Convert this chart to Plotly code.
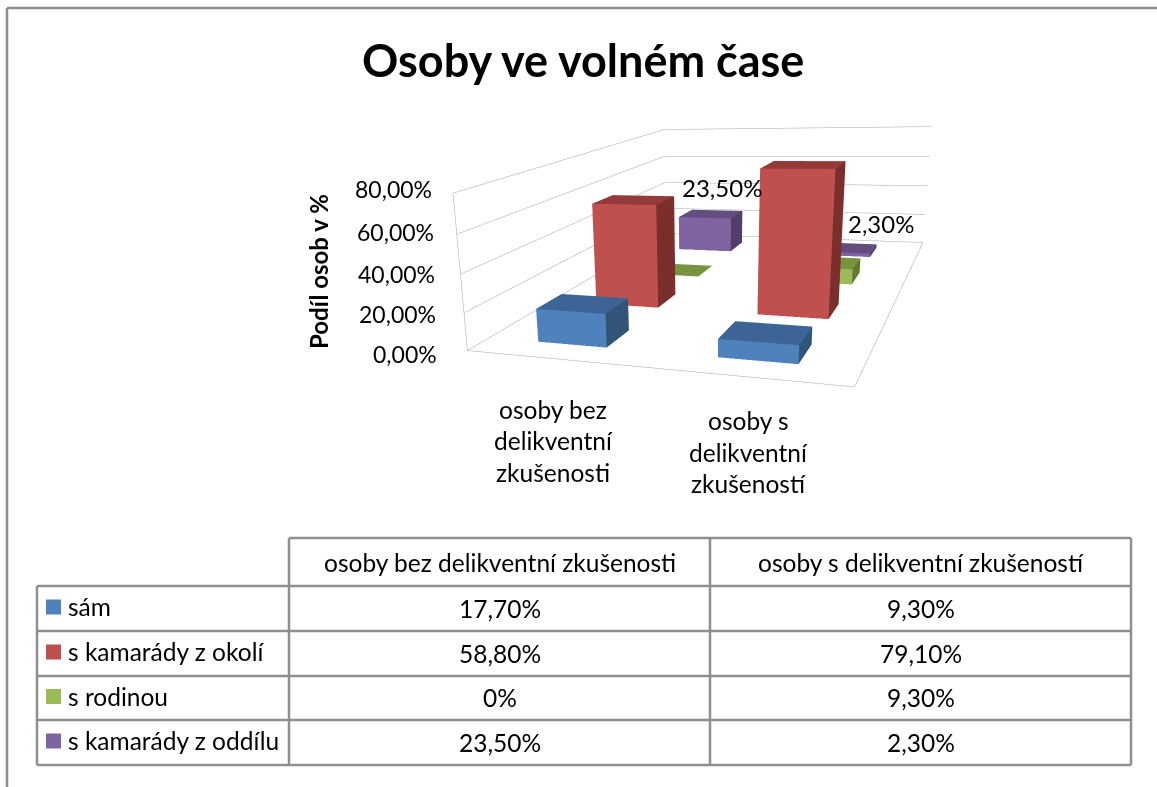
import plotly.graph_objects as go

# ---------- data ----------
categories = ["osoby bez delikventní zkušenosti", "osoby s delikventní zkušeností"]
category_lines = [["osoby bez", "delikventní", "zkušenosti"], ["osoby s", "delikventní", "zkušeností"]]
series = ["sám", "s kamarády z okolí", "s rodinou", "s kamarády z oddílu"]
sam = [0.177, 0.093]
okoli = [0.588, 0.791]
rodina = [0.0, 0.093]
oddil = [0.235, 0.023]
values = [sam, okoli, rodina, oddil]
table_text = [["17,70%", "9,30%"], ["58,80%", "79,10%"], ["0%", "9,30%"], ["23,50%", "2,30%"]]
z_ticks = [0, 0.2, 0.4, 0.6, 0.8]
z_tick_labels = ["0,00%", "20,00%", "40,00%", "60,00%", "80,00%"]
front_colors = ["#4F81BD", "#C0504D", "#9BBB59", "#8064A2"]
top_colors = ["#3C6494", "#953A38", "#77933F", "#634C7E"]
side_colors = ["#325479", "#7B2F2D", "#62792F", "#523E69"]

W, H = 1157, 787
FONT = "Lato"
GRID = "#a6a6a6"
TBL = "#8f8f8f"
px = lambda x: x / W
py = lambda y: 1 - y / H

fig = go.Figure()

# ---------- walls and floor ----------
gx, gy, gz = [], [], []
for t in z_ticks:
    gx += [0, 0, 2, None]
    gy += [0, 4, 4, None]
    gz += [t, t, t, None]
gx += [0, 0, None, 0, 2, 2]
gy += [0, 0, None, 0, 0, 4]
gz += [0, 0.8, None, 0, 0, 0]
fig.add_trace(go.Scatter3d(x=gx, y=gy, z=gz, mode="lines", line=dict(color=GRID, width=1),
                           hoverinfo="skip", showlegend=False))

# ---------- bars ----------
BAR_LO, BAR_HI = 0.3, 0.7
for s, vals in enumerate(values):
    X, Y, Z, I, J, K, FC = [], [], [], [], [], [], []
    for c, v in enumerate(vals):
        x0, x1, y0, y1 = c + BAR_LO, c + BAR_HI, s + BAR_LO, s + BAR_HI
        n = len(X)
        X += [x0, x1, x1, x0, x0, x1, x1, x0]
        Y += [y0, y0, y1, y1, y0, y0, y1, y1]
        Z += [0, 0, 0, 0, v, v, v, v]
        faces = [((0, 1, 5), front_colors[s]), ((0, 5, 4), front_colors[s]),
                 ((1, 2, 6), side_colors[s]), ((1, 6, 5), side_colors[s]),
                 ((4, 5, 6), top_colors[s]), ((4, 6, 7), top_colors[s]),
                 ((0, 3, 7), side_colors[s]), ((0, 7, 4), side_colors[s]),
                 ((3, 2, 6), side_colors[s]), ((3, 6, 7), side_colors[s])]
        for (a, b, d), col in faces:
            I.append(n + a); J.append(n + b); K.append(n + d); FC.append(col)
    fig.add_trace(go.Mesh3d(x=X, y=Y, z=Z, i=I, j=J, k=K, facecolor=FC, flatshading=True,
                            lighting=dict(ambient=1, diffuse=0, specular=0, fresnel=0, roughness=1),
                            hoverinfo="skip", name=series[s], showlegend=False))

# ---------- scene text ----------
scene_ann = []
for t, lab in zip(z_ticks, z_tick_labels):
    scene_ann.append(dict(x=0, y=0, z=t, text=lab, showarrow=False, xanchor="right",
                          xshift=-28 + 11.25 * t, yshift=-3 + 8.75 * t,
                          font=dict(family=FONT, size=23, color="black")))
scene_ann.append(dict(x=0.5, y=3.5, z=oddil[0], text=table_text[3][0], showarrow=False, xshift=11, yshift=26,
                      font=dict(family=FONT, size=24, color="black")))
scene_ann.append(dict(x=1.5, y=3.5, z=oddil[1], text=table_text[3][1], showarrow=False, xshift=36, yshift=24,
                      font=dict(family=FONT, size=24, color="black")))

fig.update_layout(scene=dict(
    domain=dict(x=[0, 1], y=[0, 1]),
    bgcolor="rgba(0,0,0,0)",
    dragmode="orbit",
    xaxis=dict(visible=False, range=[0, 2]),
    yaxis=dict(visible=False, range=[0, 4]),
    zaxis=dict(visible=False, range=[0, 0.8]),
    aspectmode="manual", aspectratio=dict(x=1, y=1.6227, z=0.414),
    camera=dict(eye=dict(x=0.7747, y=-2.8796, z=0.5455),
                center=dict(x=-0.4192, y=-0.2982, z=-0.5036),
                up=dict(x=0.0518, y=0, z=0.9987),
                projection=dict(type="perspective")),
    annotations=scene_ann))

# ---------- frame and table ----------
shapes = []
def line(x0, y0, x1, y1, color=TBL, width=2.5):
    shapes.append(dict(type="line", xref="paper", yref="paper", x0=px(x0), y0=py(y0), x1=px(x1), y1=py(y1),
                       line=dict(color=color, width=width)))
line(7, 8, W, 8); line(7, 8, 7, H)
row_y = [586, 631, 676, 720, 765]
col_x = [289, 710, 1131]
line(289, 538, 1131, 538)
for y in row_y:
    line(37, y, 1131, y)
line(37, 586, 37, 765)
for x in col_x:
    line(x, 538, x, 765)

ann = []
def text(x, y, s, size=24.5, anchor="center", bold=False, angle=0):
    ann.append(dict(xref="paper", yref="paper", x=px(x), y=py(y), text=f"<b>{s}</b>" if bold else s,
                    showarrow=False, xanchor=anchor, yanchor="middle", textangle=angle,
                    font=dict(family=FONT, size=size, color="black")))
text(583, 60, "Osoby ve volném čase", size=45, bold=True)
text(318, 272, "Podíl osob v %", size=24, bold=True, angle=-90)
for lines, cx, ys in zip(category_lines, [553, 748], [[409, 440, 472], [420, 452, 484]]):
    for l, y in zip(lines, ys):
        text(cx, y, l)
for c, name in enumerate(categories):
    text((col_x[c] + col_x[c + 1]) / 2, 562, name)
for r, name in enumerate(series):
    yc = (row_y[r] + row_y[r + 1]) / 2
    shapes.append(dict(type="rect", xref="paper", yref="paper", x0=px(46), x1=px(61), y0=py(yc - 9), y1=py(yc + 6),
                       fillcolor=front_colors[r], line=dict(width=0)))
    text(66, yc - 2, name, anchor="left")
    for c in range(2):
        text((col_x[c] + col_x[c + 1]) / 2, yc - 0.5, table_text[r][c])

fig.update_layout(width=W, height=H, margin=dict(l=0, r=0, t=0, b=0), paper_bgcolor="white",
                  shapes=shapes, annotations=ann, showlegend=False, hovermode=False)
fig.write_html("out.html", config=dict(displayModeBar=False),
               post_script="document.body.style.margin='0';document.body.style.overflow='hidden';")
